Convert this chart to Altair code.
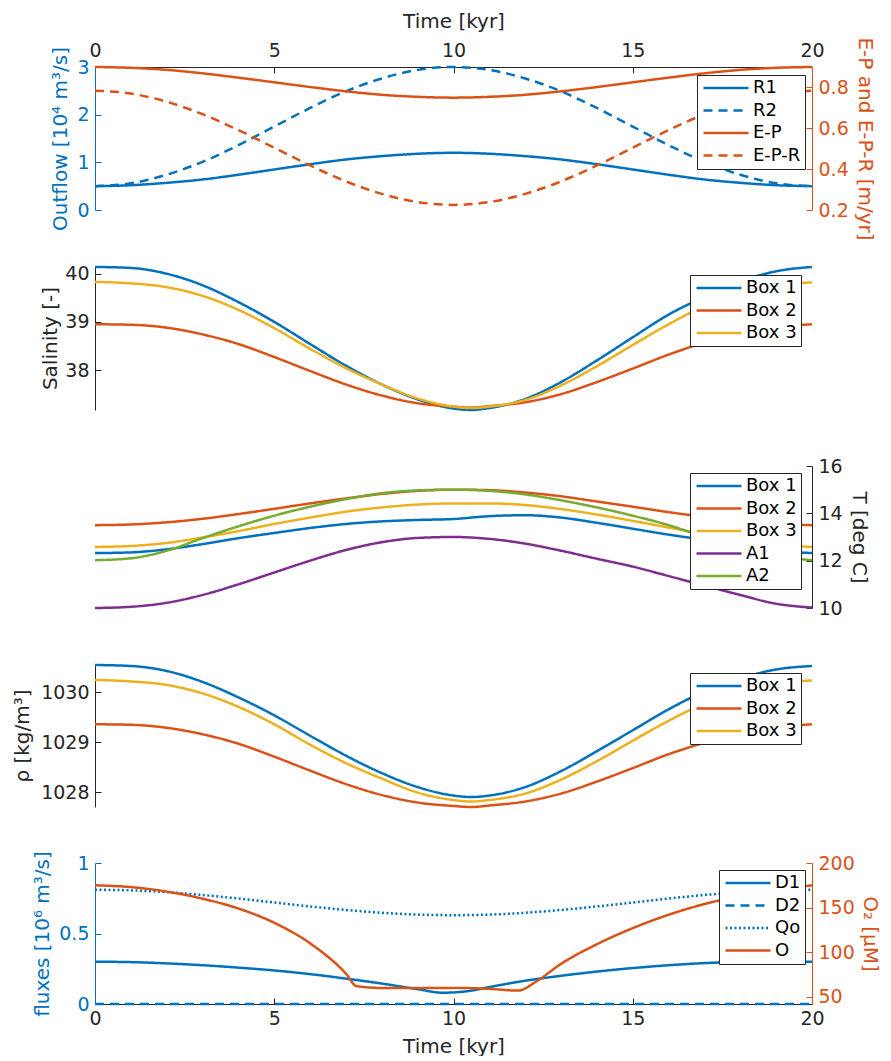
import altair as alt
import pandas as pd

FONT = "DejaVu Sans"
BLUE = "#0072BD"
ORANGE = "#D95319"
YELLOW = "#EDB120"
PURPLE = "#7E2F8E"
GREEN = "#77AC30"
DARK = "#262626"

# ---------------- data ----------------
t = list(range(21))
ts = [0, 1, 2, 3, 4, 5, 6, 7, 8, 9, 10, 10.5, 11, 12, 13, 14, 15, 16, 17, 18, 19, 20]

# panel 1: outflow (left axis) and E-P (right axis)
r1 = [0.50, 0.52, 0.57, 0.64, 0.74, 0.85, 0.96, 1.06, 1.13, 1.18, 1.20,
      1.18, 1.13, 1.06, 0.96, 0.85, 0.74, 0.64, 0.57, 0.52, 0.50]
r2 = [0.50, 0.56, 0.74, 1.01, 1.36, 1.75, 2.14, 2.49, 2.76, 2.94, 3.00,
      2.94, 2.76, 2.49, 2.14, 1.75, 1.36, 1.01, 0.74, 0.56, 0.50]
ep = [0.900, 0.896, 0.886, 0.869, 0.848, 0.825, 0.802, 0.781, 0.764, 0.754, 0.750,
      0.754, 0.764, 0.781, 0.802, 0.825, 0.848, 0.869, 0.886, 0.896, 0.900]
epr = [0.784, 0.770, 0.730, 0.669, 0.591, 0.505, 0.418, 0.340, 0.279, 0.239, 0.225,
       0.239, 0.279, 0.340, 0.418, 0.505, 0.591, 0.669, 0.730, 0.770, 0.784]

# panel 2: salinity (sampled at ts)
sal1 = [40.14, 40.12, 40.00, 39.76, 39.41, 39.00, 38.54, 38.09, 37.70, 37.39, 37.20, 37.17,
        37.21, 37.40, 37.75, 38.20, 38.68, 39.15, 39.52, 39.84, 40.05, 40.14]
sal2 = [38.95, 38.94, 38.88, 38.74, 38.54, 38.27, 37.98, 37.70, 37.47, 37.31, 37.24, 37.22,
        37.25, 37.33, 37.50, 37.75, 38.03, 38.32, 38.57, 38.76, 38.89, 38.95]
sal3 = [39.83, 39.80, 39.72, 39.54, 39.25, 38.87, 38.44, 38.04, 37.70, 37.41, 37.24, 37.21,
        37.24, 37.38, 37.68, 38.08, 38.52, 38.95, 39.33, 39.60, 39.76, 39.82]

# panel 3: temperature
tb1 = [12.32, 12.35, 12.48, 12.70, 12.95, 13.17, 13.38, 13.55, 13.66, 13.72, 13.76,
       13.88, 13.92, 13.82, 13.60, 13.35, 13.10, 12.88, 12.65, 12.42, 12.32]
tb2 = [13.50, 13.53, 13.62, 13.77, 13.97, 14.19, 14.42, 14.63, 14.82, 14.95, 15.00,
       14.98, 14.88, 14.72, 14.50, 14.28, 14.05, 13.85, 13.68, 13.56, 13.50]
tb3 = [12.58, 12.62, 12.75, 12.98, 13.25, 13.55, 13.82, 14.07, 14.25, 14.37, 14.42,
       14.42, 14.35, 14.18, 13.95, 13.68, 13.40, 13.12, 12.87, 12.68, 12.58]
ta1 = [10.00, 10.05, 10.22, 10.55, 11.00, 11.50, 12.00, 12.45, 12.78, 12.96, 13.00,
       12.92, 12.72, 12.42, 12.08, 11.75, 11.35, 10.95, 10.55, 10.18, 10.02]
ta2 = [12.02, 12.10, 12.42, 12.95, 13.45, 13.90, 14.28, 14.60, 14.85, 14.97, 15.00,
       14.95, 14.80, 14.55, 14.25, 13.90, 13.50, 13.00, 12.55, 12.20, 12.02]

# panel 4: density (sampled at ts)
rho1 = [1030.55, 1030.53, 1030.43, 1030.21, 1029.90, 1029.54, 1029.13, 1028.73, 1028.38, 1028.10, 1027.93,
        1027.90, 1027.93, 1028.10, 1028.42, 1028.82, 1029.24, 1029.66, 1030.02, 1030.28, 1030.46, 1030.53]
rho2 = [1029.36, 1029.35, 1029.29, 1029.16, 1028.97, 1028.71, 1028.43, 1028.16, 1027.94, 1027.79, 1027.72,
        1027.70, 1027.73, 1027.81, 1027.97, 1028.21, 1028.48, 1028.76, 1028.99, 1029.18, 1029.30, 1029.36]
rho3 = [1030.25, 1030.22, 1030.15, 1029.98, 1029.71, 1029.36, 1028.95, 1028.58, 1028.27, 1027.99, 1027.84,
        1027.81, 1027.84, 1027.97, 1028.25, 1028.62, 1029.03, 1029.43, 1029.78, 1030.04, 1030.18, 1030.24]

# panel 5: fluxes (left) and oxygen (right)
d1_t = [0, 1, 2, 3, 4, 5, 6, 7, 8, 9, 9.7, 10.5, 11, 12, 13, 14, 15, 16, 17, 18, 19, 20]
d1 = [0.300, 0.297, 0.288, 0.275, 0.258, 0.238, 0.212, 0.180, 0.145, 0.105, 0.080, 0.095,
      0.120, 0.165, 0.200, 0.230, 0.255, 0.275, 0.290, 0.298, 0.300, 0.300]
d2_t = [0, 20]
d2 = [0.0, 0.0]
qo = [0.810, 0.806, 0.793, 0.773, 0.748, 0.720, 0.692, 0.667, 0.647, 0.634, 0.630,
      0.634, 0.647, 0.667, 0.692, 0.720, 0.748, 0.773, 0.793, 0.806, 0.810]
o_t = [0, 1, 2, 3, 4, 5, 6, 7, 7.3, 8, 9, 10, 11, 11.8, 12.3, 13, 14, 15, 16, 17, 18, 19, 20]
o2 = [175, 173, 168, 160, 149, 133, 110, 76, 62, 60, 60, 60, 59, 57, 67, 87, 109, 127, 142, 154, 163, 170, 175]


def long(tlists, vlists, names):
    rows = []
    for tt, vv, nm in zip(tlists, vlists, names):
        for a, b in zip(tt, vv):
            rows.append({"t": a, "v": b, "s": nm})
    return pd.DataFrame(rows)


# ---------------- styling helpers ----------------
W = 717
SOLID = [1, 0]
DASH = [9, 6]
DOT = [2, 2.5]
TICK_IN = {"expr": "-6"}

XS = alt.Scale(domain=[0, 20], nice=False, zero=False)


def xaxis(orient, lpad, tpad):
    return alt.Axis(orient=orient, values=[0, 5, 10, 15, 20], format="d", title="Time [kyr]",
                    domainColor=DARK, tickColor=DARK, labelColor=DARK, titleColor=DARK,
                    tickSize=TICK_IN, labelPadding=lpad, titlePadding=tpad, labelFlush=False, grid=False)


def yaxis(orient, vals, color, title, fmt, tpad):
    return alt.Axis(orient=orient, values=vals, format=fmt, title=title,
                    domainColor=color, tickColor=color, labelColor=color, titleColor=color,
                    tickSize=TICK_IN, labelPadding=12, titlePadding=tpad, grid=False)


def legend(x, y):
    return alt.Legend(title=None, orient="none", legendX=x, legendY=y,
                      fillColor="white", strokeColor=DARK, padding=4,
                      symbolType="stroke", symbolSize=2025, symbolStrokeWidth=2.5,
                      clipHeight=18, rowPadding=4.5,
                      labelFont=FONT, labelFontSize=18, labelColor="black",
                      labelOffset=3, symbolOffset=1, cornerRadius=0)


def lines(df, xax, yscale, yax, names, colors, dashes, leg):
    return alt.Chart(df).mark_line(strokeWidth=2.5, interpolate="monotone").encode(
        x=alt.X("t:Q", scale=XS, axis=xax),
        y=alt.Y("v:Q", scale=yscale, axis=yax),
        color=alt.Color("s:N", scale=alt.Scale(domain=names, range=colors), legend=leg),
        strokeDash=alt.StrokeDash("s:N", scale=alt.Scale(domain=names, range=dashes), legend=leg),
    )


# ---------------- panel 1 ----------------
n1 = ["R1", "R2", "E-P", "E-P-R"]
c1 = [BLUE, BLUE, ORANGE, ORANGE]
s1 = [SOLID, DASH, SOLID, DASH]
leg1 = legend(602, 8)
xa1 = xaxis("top", 13, 10)
df1a = long([t, t], [r1, r2], ["R1", "R2"])
df1b = long([t, t], [ep, epr], ["E-P", "E-P-R"])
p1 = alt.layer(
    lines(df1a, xa1, alt.Scale(domain=[0, 3], nice=False, zero=False),
          yaxis("left", [0, 1, 2, 3], BLUE, "Outflow [10⁴ m³/s]", "d", 6), n1, c1, s1, leg1),
    lines(df1b, xa1, alt.Scale(domain=[0.2, 0.9], nice=False, zero=False),
          yaxis("right", [0.2, 0.4, 0.6, 0.8], ORANGE, "E-P and E-P-R [m/yr]", ".1f", 6), n1, c1, s1, leg1),
).resolve_scale(y="independent").properties(width=W, height=143)

# ---------------- panel 2 ----------------
nb = ["Box 1", "Box 2", "Box 3"]
cb = [BLUE, ORANGE, YELLOW]
sb = [SOLID, SOLID, SOLID]
df2 = long([ts, ts, ts], [sal1, sal2, sal3], nb)
p2 = lines(df2, None, alt.Scale(domain=[37.17, 40.16], nice=False, zero=False),
           yaxis("left", [38, 39, 40], DARK, "Salinity [-]", "d", 4), nb, cb, sb,
           legend(595, 9)).properties(width=W, height=144)

# ---------------- panel 3 ----------------
nt = ["Box 1", "Box 2", "Box 3", "A1", "A2"]
ct = [BLUE, ORANGE, YELLOW, PURPLE, GREEN]
st = [SOLID] * 5
df3 = long([t] * 5, [tb1, tb2, tb3, ta1, ta2], nt)
p3 = lines(df3, None, alt.Scale(domain=[10, 16], nice=False, zero=False),
           yaxis("right", [10, 12, 14, 16], DARK, "T [deg C]", "d", 6), nt, ct, st,
           legend(595, 7)).properties(width=W, height=142)

# ---------------- panel 4 ----------------
df4 = long([ts, ts, ts], [rho1, rho2, rho3], nb)
p4 = lines(df4, None, alt.Scale(domain=[1027.7, 1030.57], nice=False, zero=False),
           yaxis("left", [1028, 1029, 1030], DARK, "ρ [kg/m³]", "d", 8), nb, cb, sb,
           legend(595, 9)).properties(width=W, height=143)

# ---------------- panel 5 ----------------
n5 = ["D1", "D2", "Qo", "O"]
c5 = [BLUE, BLUE, BLUE, ORANGE]
s5 = [SOLID, DASH, DOT, SOLID]
leg5 = legend(624, 7)
xa5 = xaxis("bottom", 11, 8)
df5a = long([d1_t, d2_t, t], [d1, d2, qo], ["D1", "D2", "Qo"])
df5b = long([o_t], [o2], ["O"])
p5 = alt.layer(
    lines(df5a, xa5, alt.Scale(domain=[0, 1], nice=False, zero=False),
          yaxis("left", [0, 0.5, 1], BLUE, "fluxes [10⁶ m³/s]", "~g", 6), n5, c5, s5, leg5),
    lines(df5b, xa5, alt.Scale(domain=[42, 200], nice=False, zero=False),
          yaxis("right", [50, 100, 150, 200], ORANGE, "O₂ [μM]", "d", 5), n5, c5, s5, leg5),
).resolve_scale(y="independent").properties(width=W, height=141)

chart = alt.vconcat(p1, p2, p3, p4, p5, spacing=56, bounds="flush").resolve_scale(
    color="independent", strokeDash="independent"
).properties(
    padding={"left": 4, "top": 3, "right": 3, "bottom": 0}, background="white"
).configure_view(stroke=None).configure_axis(
    labelFont=FONT, titleFont=FONT, labelFontSize=19, titleFontSize=20,
    titleFontWeight="normal", domainWidth=1, tickWidth=1
)

chart.save("out.html", embed_options={"renderer": "svg", "actions": False})
